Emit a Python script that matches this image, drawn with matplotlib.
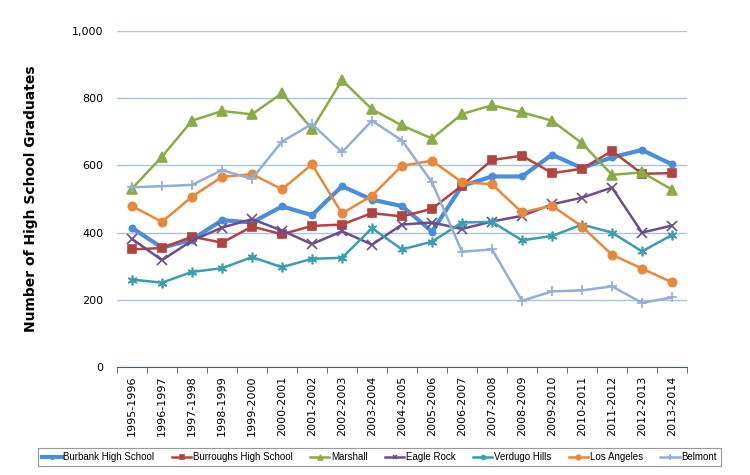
import matplotlib.pyplot as plt
import numpy as np

years = ['1995-1996', '1996-1997', '1997-1998', '1998-1999', '1999-2000',
         '2000-2001', '2001-2002', '2002-2003', '2003-2004', '2004-2005',
         '2005-2006', '2006-2007', '2007-2008', '2008-2009', '2009-2010',
         '2010-2011', '2011-2012', '2012-2013', '2013-2014']

burbank = [414, 355, 379, 437, 430, 478, 452, 538, 498, 479, 403, 539,
           567, 567, 632, 592, 624, 646, 603]
burroughs = [350, 354, 388, 370, 418, 395, 420, 424, 458, 448, 471, 540,
             616, 629, 577, 590, 643, 575, 577]
marshall = [531, 626, 733, 762, 752, 815, 708, 854, 767, 719, 680, 753,
            779, 758, 733, 666, 572, 579, 528]
eagle_rock = [381, 318, 376, 415, 440, 406, 366, 404, 364, 424, 430, 411,
              433, 450, 484, 504, 534, 400, 421]
verdugo = [260, 251, 283, 294, 327, 297, 322, 325, 413, 350, 373, 430,
           432, 377, 390, 424, 400, 344, 393]
los_angeles = [479, 432, 507, 566, 574, 529, 603, 457, 510, 599, 614, 550,
               544, 460, 480, 418, 334, 293, 252]
belmont = [535, 538, 542, 586, 560, 671, 723, 639, 733, 674, 550, 343,
           350, 197, 225, 228, 240, 191, 207]

names = ['Burbank High School', 'Burroughs High School', 'Marshall',
         'Eagle Rock', 'Verdugo Hills', 'Los Angeles', 'Belmont']
series = [burbank, burroughs, marshall, eagle_rock, verdugo, los_angeles, belmont]
colors = ['#4a8ddc', '#b2433f', '#8bab47', '#6c4d8c', '#3a9db0', '#e8883a', '#94aed6']
markers = ['o', 's', '^', 'x', (6, 2, 0), 'o', '+']
msizes = [4.5, 6, 6.5, 6.5, 7, 6, 7]
widths = [3, 1.8, 1.8, 1.8, 1.8, 1.8, 1.8]

fig = plt.figure(figsize=(7.5, 4.75), dpi=100)
ax = fig.add_axes([0.156, 0.2274, 0.76, 0.7073])

x = np.arange(len(years))
for vals, name, c, m, ms, lw in zip(series, names, colors, markers, msizes, widths):
    ax.plot(x, vals, color=c, marker=m, markersize=ms, linewidth=lw,
            markeredgewidth=1.2, label=name)

ax.set_xlim(-0.5, len(years) - 0.5)
ax.set_ylim(0, 1000)
ax.set_yticks(np.arange(0, 1001, 200))
ax.set_yticklabels(['0', '200', '400', '600', '800', '1,000'], fontsize=8)
ax.set_xticks(x)
ax.set_xticklabels(years, rotation=90, fontsize=8)
ax.set_xticks(np.arange(-0.5, len(years), 1), minor=True)
ax.tick_params(axis='x', which='major', length=0, pad=6)
ax.tick_params(axis='x', which='minor', length=4, color='#4a5a70')
ax.tick_params(axis='y', length=0, pad=10)
ax.grid(axis='y', color='#a9c4e8', linewidth=1)
ax.set_axisbelow(True)
for s in ['top', 'right', 'left']:
    ax.spines[s].set_visible(False)
ax.spines['bottom'].set_color('#4a5a70')

ax.set_ylabel('Number of High School Graduates', fontsize=10, fontweight='bold', labelpad=24)

leg = fig.legend(loc='center', bbox_to_anchor=(0.506, 0.038), ncol=7,
                 prop={'family': 'Liberation Sans', 'size': 7},
                 frameon=True, fancybox=False, edgecolor='#808080', handlelength=2.0,
                 columnspacing=1.8, handletextpad=0.15, markerscale=0.55, borderpad=0.45)
leg.get_frame().set_linewidth(0.8)

fig.savefig('out.png', dpi=100)
